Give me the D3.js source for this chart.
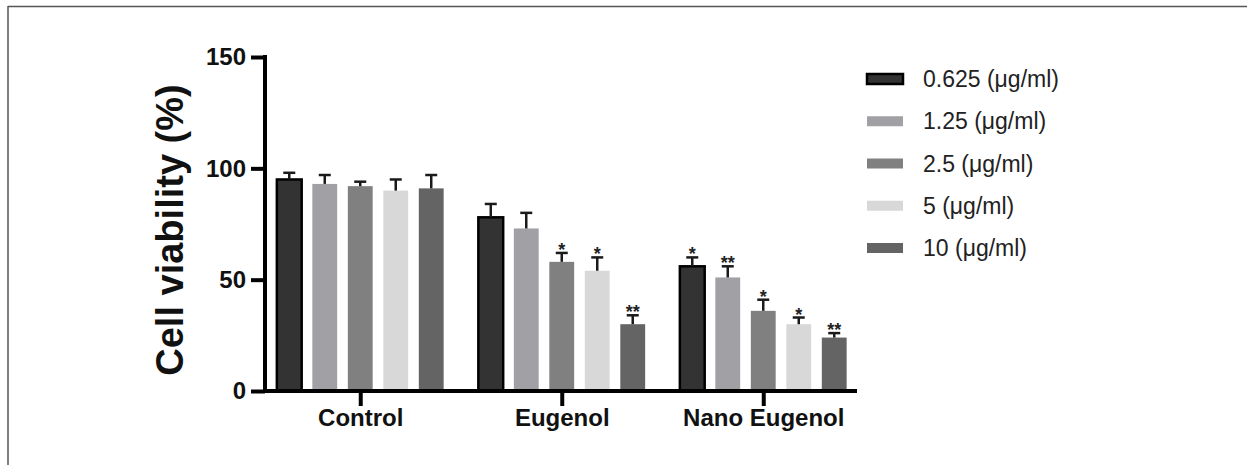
<!DOCTYPE html>
<html>
<head>
<meta charset="utf-8">
<script src="https://cdn.jsdelivr.net/npm/d3@7"></script>
<style>
    body { margin: 0; background: #fff; }
    svg { display: block; font-family: "Liberation Sans", Arial, sans-serif; }
</style>
</head>
<body>
<div id="chart"></div>
<script>
// Data
const groups = ['Control', 'Eugenol', 'Nano Eugenol'];
const doses = ['0.625 (μg/ml)', '1.25 (μg/ml)', '2.5 (μg/ml)', '5 (μg/ml)', '10 (μg/ml)'];
const means = [
    [95, 93, 92, 90, 91],
    [78, 73, 58, 54, 30],
    [56, 51, 36, 30, 24]
];
const errors = [
    [3, 4, 2, 5, 6],
    [6, 7, 4, 6, 4],
    [4, 5, 5, 3, 2]
];
const stars = [
    ['', '', '', '', ''],
    ['', '', '*', '*', '**'],
    ['*', '**', '*', '*', '**']
];
const yTicks = [0, 50, 100, 150];
const colors = ['#333333', '#a1a1a5', '#808080', '#d8d8d8', '#646464'];

const W = 1247, H = 465;

const svg = d3.select('#chart').append('svg')
    .attr('width', W)
    .attr('height', H);

// Thin frame (top and left edges only)
svg.append('line').attr('x1', 8).attr('x2', W).attr('y1', 6.5).attr('y2', 6.5)
    .attr('stroke', '#555').attr('stroke-width', 1.5);
svg.append('line').attr('x1', 8).attr('x2', 8).attr('y1', 6).attr('y2', H)
    .attr('stroke', '#555').attr('stroke-width', 1.5);

// Scales
const y = d3.scaleLinear().domain([0, 150]).range([391, 57]);
const x0 = d3.scaleBand().domain(groups).range([259.5, 864]).padding(0);
const x1 = d3.scaleBand().domain(doses).range([-83.4, 83.4]).paddingInner(0.3).paddingOuter(0);
const color = d3.scaleOrdinal().domain(doses).range(colors);

const axisLeft = 265;
const axisRight = 857;

// Bars
const g = svg.append('g');
groups.forEach((grp, gi) => {
    const cx = x0(grp) + x0.bandwidth() / 2;
    doses.forEach((d, di) => {
        const bx = cx + x1(d);
        const bw = x1.bandwidth();
        const v = means[gi][di];
        const e = errors[gi][di];
        g.append('rect')
            .attr('x', bx)
            .attr('y', y(v))
            .attr('width', bw)
            .attr('height', y(0) - y(v))
            .attr('fill', color(d))
            .attr('stroke', di === 0 ? '#000' : 'none')
            .attr('stroke-width', di === 0 ? 2.5 : 0);

        // Upper error bar
        const mx = bx + bw / 2;
        g.append('line')
            .attr('x1', mx).attr('x2', mx)
            .attr('y1', y(v)).attr('y2', y(v + e))
            .attr('stroke', '#1a1a1a').attr('stroke-width', 2.5);
        g.append('line')
            .attr('x1', mx - 6).attr('x2', mx + 6)
            .attr('y1', y(v + e)).attr('y2', y(v + e))
            .attr('stroke', '#1a1a1a').attr('stroke-width', 2.5);

        if (stars[gi][di]) {
            g.append('text')
                .attr('x', mx)
                .attr('y', y(v + e) + 3)
                .attr('text-anchor', 'middle')
                .style('font-size', '18px')
                .style('font-weight', 'bold')
                .attr('fill', '#222')
                .text(stars[gi][di]);
        }
    });
});

// Y axis
const gy = svg.append('g')
    .attr('transform', `translate(${axisLeft},0)`)
    .call(d3.axisLeft(y).tickValues(yTicks).tickSize(14).tickPadding(5).tickSizeOuter(0));
gy.select('.domain').attr('stroke', '#000').attr('stroke-width', 4)
    .attr('d', `M0,${y(150) - 2}V${y(0)}`);
gy.selectAll('.tick line').attr('stroke', '#000').attr('stroke-width', 4);
gy.selectAll('.tick text')
    .attr('fill', '#111')
    .style('font-size', '24px')
    .style('font-weight', 'bold');

// X axis
const xMid = d3.scaleOrdinal().domain(groups).range(groups.map(d => x0(d) + x0.bandwidth() / 2));
const gx = svg.append('g')
    .attr('transform', `translate(0,${y(0)})`)
    .call(d3.axisBottom(xMid).tickSize(15).tickPadding(3).tickSizeOuter(0));
gx.select('.domain').attr('stroke', '#000').attr('stroke-width', 4)
    .attr('d', `M${axisLeft - 2},0H${axisRight}`);
gx.selectAll('.tick line').attr('stroke', '#000').attr('stroke-width', 4);
gx.selectAll('.tick text')
    .attr('fill', '#111')
    .style('font-size', '24px')
    .style('font-weight', 'bold');

// Y title
svg.append('text')
    .attr('transform', 'rotate(-90)')
    .attr('x', -230)
    .attr('y', 183)
    .attr('text-anchor', 'middle')
    .attr('fill', '#111')
    .style('font-size', '38px')
    .style('font-weight', 'bold')
    .text('Cell viability (%)');

// Legend
const ly = d3.scalePoint().domain(doses).range([79, 248]);
const legend = svg.append('g');
doses.forEach((d, i) => {
    const cy = ly(d);
    legend.append('rect')
        .attr('x', 867).attr('y', cy - 5)
        .attr('width', 36).attr('height', 10)
        .attr('fill', color(d))
        .attr('stroke', i === 0 ? '#000' : 'none')
        .attr('stroke-width', i === 0 ? 2.5 : 0);
    legend.append('text')
        .attr('x', 923).attr('y', cy + 8)
        .attr('fill', '#222')
        .style('font-size', '23px')
        .text(d);
});
</script>
</body>
</html>
